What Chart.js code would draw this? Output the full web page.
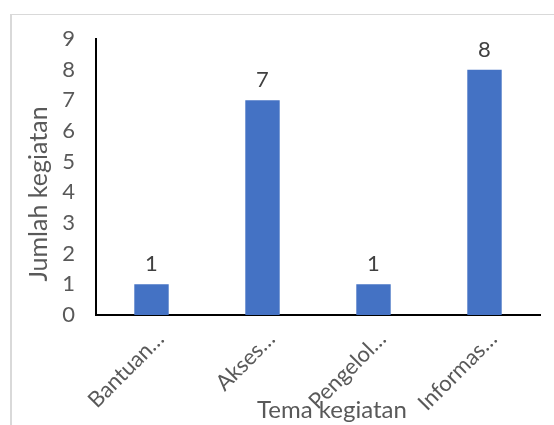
<!DOCTYPE html>
<html>
<head>
<meta charset="utf-8">
<script src="https://cdn.jsdelivr.net/npm/chart.js@4.4.0/dist/chart.umd.min.js"></script>
<style>
  html, body { margin: 0; padding: 0; background: #fff; overflow: hidden; }
  #wrap { position: relative; width: 554px; height: 425px; }
  #frame { position: absolute; left: 10px; top: 14px; width: 560px; height: 420px;
           border-left: 2px solid #d9d9d9; border-top: 1px solid #d9d9d9; }
  #chart { position: absolute; left: 0; top: 0; }
</style>
</head>
<body>
<div id="wrap">
  <div id="frame"></div>
  <canvas id="chart" width="554" height="425"></canvas>
</div>
<script>
// Chart data
const categories = ['Bantuan…', 'Akses…', 'Pengelol…', 'Informas…'];
const counts = [1, 7, 1, 8];
const yMin = 0;
const yMax = 9;
const yStep = 1;
const xTitle = 'Tema kegiatan';
const yTitle = 'Jumlah kegiatan';

const textColor = '#595959';
const fontFamily = 'Lato, "Open Sans", sans-serif';

// Value labels above the bars
const barValueLabels = {
    id: 'barValueLabels',
    afterDatasetsDraw(chart) {
        const ctx = chart.ctx;
        const meta = chart.getDatasetMeta(0);
        ctx.save();
        ctx.font = '22px ' + fontFamily;
        ctx.fillStyle = '#404040';
        ctx.textAlign = 'center';
        ctx.textBaseline = 'alphabetic';
        meta.data.forEach((bar, i) => {
            ctx.fillText(String(counts[i]), bar.x, bar.y - 13);
        });
        ctx.restore();
    }
};

// Axis titles, Excel puts them a bit off the plot centre
const axisTitles = {
    id: 'axisTitles',
    afterDraw(chart) {
        const ctx = chart.ctx;
        const area = chart.chartArea;
        ctx.save();
        ctx.fillStyle = textColor;
        ctx.textAlign = 'center';
        ctx.textBaseline = 'alphabetic';

        ctx.font = '24px ' + fontFamily;
        ctx.fillText(xTitle, (area.left + area.right) / 2 + 14, 418);

        ctx.font = '25px ' + fontFamily;
        ctx.translate(47, (area.top + area.bottom) / 2 + 17);
        ctx.rotate(-Math.PI / 2);
        ctx.fillText(yTitle, 0, 0);
        ctx.restore();
    }
};

const ctx = document.getElementById('chart').getContext('2d');
new Chart(ctx, {
    type: 'bar',
    data: {
        labels: categories,
        datasets: [{
            data: counts,
            backgroundColor: '#4472C4',
            barPercentage: 0.31,
            categoryPercentage: 1
        }]
    },
    options: {
        responsive: false,
        animation: false,
        devicePixelRatio: 1,
        layout: { padding: { left: 14, right: 14, top: 39, bottom: 0 } },
        plugins: {
            legend: { display: false },
            tooltip: { enabled: false }
        },
        scales: {
            x: {
                grid: { display: false, drawTicks: false },
                border: { display: true, color: '#000', width: 2 },
                ticks: {
                    color: textColor,
                    font: { family: fontFamily, size: 22 },
                    minRotation: 45,
                    maxRotation: 45,
                    autoSkip: false,
                    labelOffset: 9,
                    padding: 11
                },
                afterFit: s => { s.height = 110; }
            },
            y: {
                min: yMin,
                max: yMax,
                grid: { display: false, drawTicks: false },
                border: { display: true, color: '#000', width: 2 },
                ticks: {
                    stepSize: yStep,
                    color: textColor,
                    font: { family: fontFamily, size: 22 },
                    padding: 21
                },
                afterFit: s => { s.width = 82; }
            }
        }
    },
    plugins: [barValueLabels, axisTitles]
});
</script>
</body>
</html>
